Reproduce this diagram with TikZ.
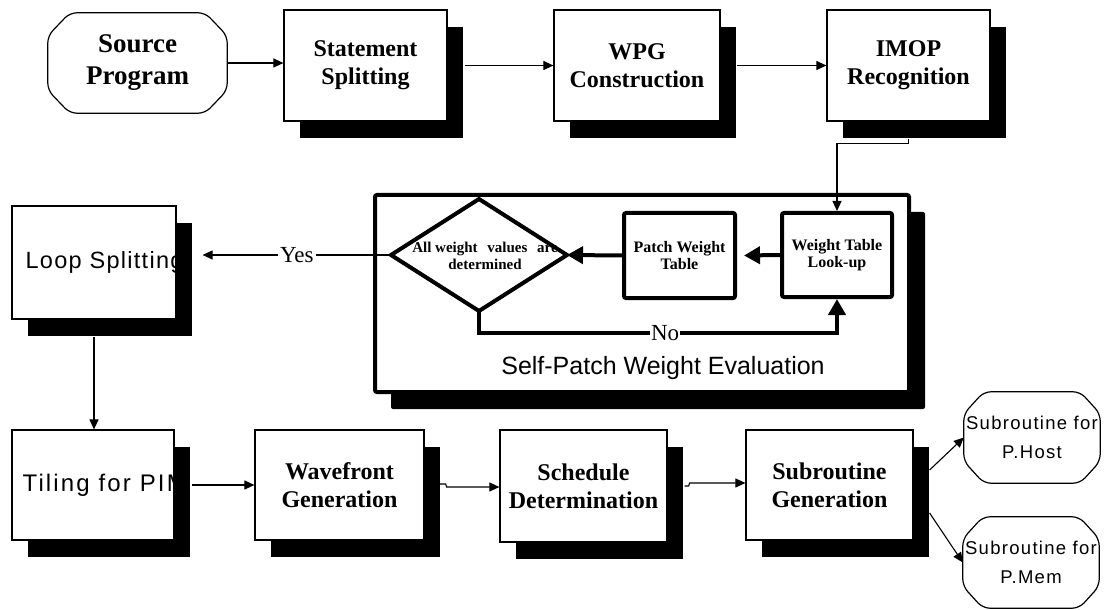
\documentclass[tikz,border=0pt]{standalone}
\usepackage{fontspec}
\setmainfont{Liberation Serif}
\newfontfamily\sansfam{Liberation Sans}
\newfontfamily\sansspaced[LetterSpace=5.5]{Liberation Sans}
\newfontfamily\sanswide[LetterSpace=9]{Liberation Sans}
\newfontfamily\sanssub[LetterSpace=7]{Liberation Sans}
\usetikzlibrary{arrows.meta,shapes.geometric,shadows}

% text styles
\newcommand\lblBold{\fontsize{24bp}{28bp}\selectfont\bfseries}
\newcommand\lblSrc{\fontsize{27bp}{32bp}\selectfont\bfseries}
\newcommand\lblInner{\fontsize{16bp}{17bp}\selectfont\bfseries}
\newcommand\lblDia{\fontsize{15bp}{17bp}\selectfont\bfseries}
\newcommand\lblPlain{\fontsize{23bp}{27bp}\selectfont}
\newcommand\lblSans{\sansfam\fontsize{25bp}{30bp}\selectfont}
\newcommand\lblSpaced{\sansspaced\fontsize{23.5bp}{28bp}\selectfont}
\newcommand\lblWide{\sanswide\fontsize{24bp}{28bp}\selectfont}
\newcommand\lblSub{\sanssub\fontsize{18.5bp}{29.5bp}\selectfont}

\begin{document}
\begin{tikzpicture}[x=1bp,y=1bp,
  blockshadow/.style={general shadow={fill=black, shadow xshift=16bp, shadow yshift=-17bp}},
  stepbox/.style={draw, line width=1.2bp, fill=white, inner sep=0pt, align=center,
    blockshadow, font=\lblBold},
  termbox/.style={inner sep=0pt, align=center},
  termline/.style={draw, line width=1.2bp, rounded corners=7bp},
  framebox/.style={draw, line width=4bp, fill=white, rounded corners=2bp, blockshadow},
  procbox/.style={draw, line width=4bp, fill=white, rounded corners=2bp, inner sep=0pt,
    align=center, font=\lblInner},
  decision/.style={diamond, fill=white, inner sep=0pt, outer sep=0pt},
  conn/.style={line width=1.1bp, -{Triangle[length=10bp,width=9bp]}},
  bigconn/.style={line width=4bp, -{Triangle[length=16bp,width=17bp]}},
  lbl/.style={fill=white, inner sep=2bp, font=\lblPlain}
]
\useasboundingbox (0,0) rectangle (1107,-610);

% top row
\node[termbox, minimum width=179bp, minimum height=100bp, font=\lblSrc] (src) at (137.5,-63) {Source\\Program};
\draw[termline] ([xshift=22bp]src.north west) -- ([xshift=-22bp]src.north east)
  -- ([yshift=-23bp]src.north east) -- ([yshift=23bp]src.south east)
  -- ([xshift=-22bp]src.south east) -- ([xshift=22bp]src.south west)
  -- ([yshift=23bp]src.south west) -- ([yshift=-23bp]src.north west) -- cycle;
\node[stepbox, minimum width=163bp, minimum height=111bp] (stmt) at (365.5,-65.5) {Statement\\Splitting};
\node[stepbox, minimum width=166bp, minimum height=111bp] (wpg) at (637,-65.5) {WPG\\Construction};
\node[stepbox, minimum width=163bp, minimum height=111bp] (imop) at (908.5,-65.5) {IMOP\\Recognition};

% self-patch weight evaluation frame
\node[framebox, minimum width=534bp, minimum height=197bp] (spwe) at (642,-293.5) {};
\node[anchor=base, font=\lblSans] (spwelbl) at (663,-374) {Self-Patch Weight Evaluation};

\node[decision, minimum width=176bp, minimum height=112bp] (dia) at (479,-255) {};
\node[font=\lblDia, align=center] (diatxt) at (485,-255.5) {All weight\hspace{6bp} values\hspace{6bp} are\\determined};
\draw[line width=4bp] (dia.north) -- (dia.east) -- (dia.south) -- (dia.west) -- cycle;

\node[procbox, minimum width=111bp, minimum height=85bp] (patch) at (679.5,-255.5) {Patch Weight\\Table};
\node[procbox, minimum width=110bp, minimum height=84bp] (wt) at (837,-255) {Weight Table\\Look-up};

% left column
\node[stepbox, minimum width=164bp, minimum height=113bp] (loop) at (94,-262.5) {};
\node[anchor=west, inner sep=0pt, font=\lblSpaced] (looptxt) at ([xshift=14bp]loop.west) {Loop Splitting};
\node[stepbox, minimum width=162bp, minimum height=110bp] (tiling) at (93,-485) {};
\node[anchor=west, inner sep=0pt, font=\lblWide] (tilingtxt) at ([xshift=11bp]tiling.west) {Tiling for PIM};

% bottom row
\node[stepbox, minimum width=169bp, minimum height=110bp] (wave) at (339.5,-485) {Wavefront\\Generation};
\node[stepbox, minimum width=167bp, minimum height=112bp] (sched) at (583.5,-486) {Schedule\\Determination};
\node[stepbox, minimum width=167bp, minimum height=110bp] (subgen) at (829.5,-485) {Subroutine\\Generation};

\node[termbox, minimum width=136bp, minimum height=91bp] (host) at (1032,-437.5) {};
\node[font=\lblSub, align=center, inner sep=0pt] (hosttxt) at (host.center) {Subroutine for\\P.Host};
\draw[termline] ([xshift=20bp]host.north west) -- ([xshift=-20bp]host.north east)
  -- ([yshift=-22bp]host.north east) -- ([yshift=22bp]host.south east)
  -- ([xshift=-20bp]host.south east) -- ([xshift=20bp]host.south west)
  -- ([yshift=22bp]host.south west) -- ([yshift=-22bp]host.north west) -- cycle;
\node[termbox, minimum width=136bp, minimum height=91bp] (mem) at (1031,-562.5) {};
\node[font=\lblSub, align=center, inner sep=0pt] (memtxt) at (mem.center) {Subroutine for\\P.Mem};
\draw[termline] ([xshift=20bp]mem.north west) -- ([xshift=-20bp]mem.north east)
  -- ([yshift=-22bp]mem.north east) -- ([yshift=22bp]mem.south east)
  -- ([xshift=-20bp]mem.south east) -- ([xshift=20bp]mem.south west)
  -- ([yshift=22bp]mem.south west) -- ([yshift=-22bp]mem.north west) -- cycle;

% connectors
\draw[conn] (src.east) -- (src.east -| stmt.west);
\draw[conn] ([xshift=17bp]stmt.east) -- (wpg.west);
\draw[conn] ([xshift=16bp]wpg.east) -- (imop.west);
\draw[conn] ([yshift=-17bp]imop.south) -- ++(0,-5) -| (wt.north);

\draw[bigconn] (wt.west) -- ([xshift=7bp]patch.east);
\draw[bigconn] (patch.west) -- (dia.east);
\draw[bigconn] (dia.south) -- ++(0,-22) coordinate (nobend)
  -- node[pos=0.52, lbl, inner sep=1bp] (nolbl) {No} (nobend -| wt.south) -- (wt.south);

\draw[conn] (dia.west) -- node[lbl] (yeslbl) {Yes} ([xshift=26bp]loop.east |- dia.west);
\draw[conn] ([yshift=-17bp]loop.south) -- (loop.south |- tiling.north);
\draw[conn] ([xshift=17bp]tiling.east) -- (wave.west);
\draw[conn] ([xshift=15bp,yshift=1bp]wave.east) -- ++(6,0) -- ++(1,-3) coordinate (jog1) -- (jog1 -| sched.west);
\draw[conn] ([xshift=17bp]sched.east) -- ++(4,0) -- ++(1,3) coordinate (jog2) -- (jog2 -| subgen.west);
\draw[conn] ([xshift=16bp,yshift=15bp]subgen.east) -- (host.west);
\draw[conn] ([xshift=16bp,yshift=-28bp]subgen.east) -- (mem.west);
\end{tikzpicture}
\end{document}
